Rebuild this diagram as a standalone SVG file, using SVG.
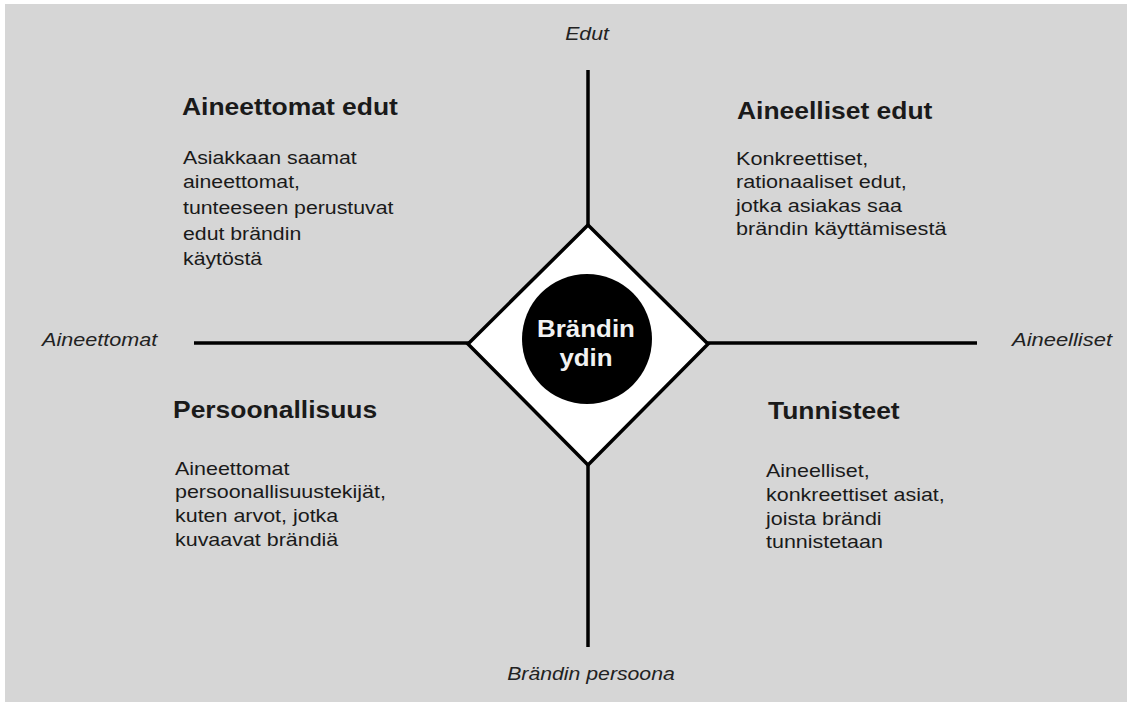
<svg xmlns="http://www.w3.org/2000/svg" width="1132" height="702" viewBox="0 0 1132 702">
<style>
.bg{fill:#d6d6d6}
.axis{stroke:#000;stroke-width:3.5;fill:none}
.t{font-family:"Liberation Sans",Arial,sans-serif;fill:#1a1a1a}
.h{font-size:23px;font-weight:bold}
.b{font-size:18.5px}
.ax{font-size:18px;font-style:italic;fill:#222}
.core{font-family:"Liberation Sans",Arial,sans-serif;font-size:24px;font-weight:bold;fill:#f2f2f2;text-anchor:middle}
</style>
<rect width="1132" height="702" fill="#ffffff"/>
<rect class="bg" x="5" y="4" width="1122" height="698"/>
<g id="connectors">
<line class="axis" x1="588" y1="70" x2="588" y2="226"/>
<line class="axis" x1="588" y1="464" x2="588" y2="647"/>
<line class="axis" x1="194" y1="343" x2="469" y2="343"/>
<line class="axis" x1="707" y1="343" x2="977" y2="343"/>
</g>
<g id="core">
<polygon points="588,225 708,344 588,465 468,344" fill="#ffffff" stroke="#000" stroke-width="3.5"/>
<circle cx="587" cy="339" r="65" fill="#000"/>
<text class="core" transform="translate(586 337) scale(1.08 1)">Brändin</text>
<text class="core" transform="translate(586 366) scale(1.08 1)">ydin</text>
</g>
<g id="axis-labels">
<text class="t ax" text-anchor="middle" transform="translate(587 40) scale(1.18 1)">Edut</text>
<text class="t ax" transform="translate(42 346) scale(1.2 1)">Aineettomat</text>
<text class="t ax" transform="translate(1012 346) scale(1.22 1)">Aineelliset</text>
<text class="t ax" text-anchor="middle" transform="translate(591 680) scale(1.18 1)">Brändin persoona</text>
</g>
<g id="q-aineettomat-edut">
<text class="t h" transform="translate(182 115) scale(1.15 1)">Aineettomat edut</text>
<text class="t b" transform="translate(183 164) scale(1.15 1)"><tspan x="0" y="0">Asiakkaan saamat</tspan><tspan x="0" y="24.5">aineettomat,</tspan><tspan x="0" y="50.5">tunteeseen perustuvat</tspan><tspan x="0" y="76.5">edut brändin</tspan><tspan x="0" y="101">käytöstä</tspan></text>
</g>
<g id="q-aineelliset-edut">
<text class="t h" transform="translate(737 119) scale(1.15 1)">Aineelliset edut</text>
<text class="t b" transform="translate(736 165) scale(1.17 1)"><tspan x="0" y="0">Konkreettiset,</tspan><tspan x="0" y="23.5">rationaaliset edut,</tspan><tspan x="0" y="47">jotka asiakas saa</tspan><tspan x="0" y="70.5">brändin käyttämisestä</tspan></text>
</g>
<g id="q-persoonallisuus">
<text class="t h" transform="translate(173 418) scale(1.15 1)">Persoonallisuus</text>
<text class="t b" transform="translate(175 475) scale(1.16 1)"><tspan x="0" y="0">Aineettomat</tspan><tspan x="0" y="23.5">persoonallisuustekijät,</tspan><tspan x="0" y="47.5">kuten arvot, jotka</tspan><tspan x="0" y="71">kuvaavat brändiä</tspan></text>
</g>
<g id="q-tunnisteet">
<text class="t h" transform="translate(768 419) scale(1.15 1)">Tunnisteet</text>
<text class="t b" transform="translate(766 477) scale(1.16 1)"><tspan x="0" y="0">Aineelliset,</tspan><tspan x="0" y="24">konkreettiset asiat,</tspan><tspan x="0" y="48">joista brändi</tspan><tspan x="0" y="71">tunnistetaan</tspan></text>
</g>
</svg>
